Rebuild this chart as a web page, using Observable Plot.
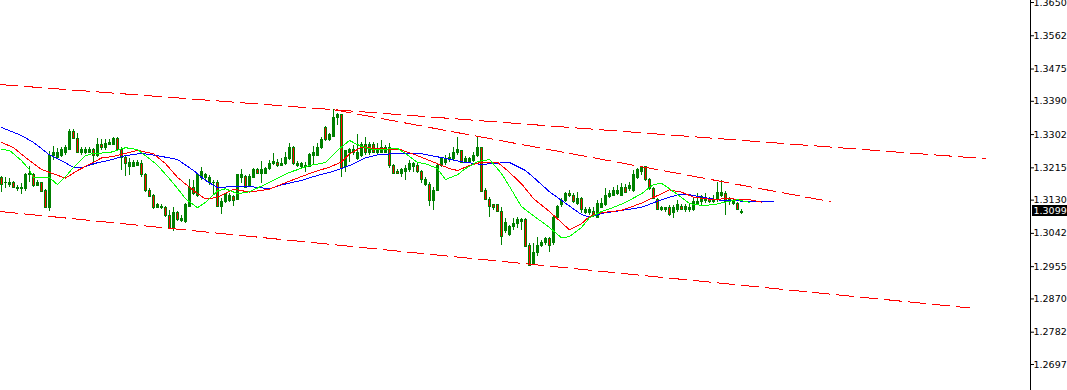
<!DOCTYPE html>
<html>
<head>
<meta charset="utf-8">
<script src="https://cdn.jsdelivr.net/npm/d3@7"></script>
<script src="https://cdn.jsdelivr.net/npm/@observablehq/plot@0.6"></script>
<style>
  html, body { margin: 0; padding: 0; background: #ffffff; overflow: hidden; }
  #chart svg { display: block; overflow: hidden; }
</style>
</head>
<body>
<div id="chart"></div>
<script>
// Daily candles (bar index = position in the arrays), prices
const open = [
  1.3189,1.3174,1.3171,1.3174,1.3160,1.3160,1.3158,1.3197,1.3197,1.3168,
  1.3174,1.3155,1.3108,1.3245,1.3242,1.3247,1.3253,1.3263,1.3308,1.3292,
  1.3253,1.3255,1.3255,1.3263,1.3245,1.3276,1.3266,1.3276,1.3276,1.3292,
  1.3263,1.3242,1.3218,1.3218,1.3221,1.3224,1.3197,1.3155,1.3142,1.3110,
  1.3110,1.3110,1.3089,1.3055,1.3097,1.3076,1.3073,1.3113,1.3163,1.3142,
  1.3189,1.3189,1.3174,1.3176,1.3176,1.3113,1.3124,1.3129,1.3137,1.3131,
  1.3189,1.3192,1.3168,1.3189,1.3208,1.3200,1.3200,1.3213,1.3224,1.3229,
  1.3221,1.3224,1.3239,1.3268,1.3221,1.3218,1.3216,1.3218,1.3247,1.3247,
  1.3266,1.3321,1.3287,1.3297,1.3345,1.3353,1.3216,1.3253,1.3253,1.3237,
  1.3247,1.3274,1.3253,1.3274,1.3253,1.3255,1.3255,1.3266,1.3221,1.3205,
  1.3200,1.3205,1.3210,1.3218,1.3221,1.3205,1.3171,1.3171,1.3129,1.3155,
  1.3221,1.3229,1.3237,1.3239,1.3253,1.3258,1.3231,1.3231,1.3234,1.3245,
  1.3266,1.3155,1.3131,1.3116,1.3116,1.3100,1.3050,1.3037,1.3058,1.3066,
  1.3073,1.3079,1.3010,1.2963,1.2990,1.3010,1.3016,1.3029,1.3016,1.3084,
  1.3116,1.3129,1.3147,1.3142,1.3121,1.3134,1.3097,1.3097,1.3100,1.3084,
  1.3110,1.3116,1.3137,1.3142,1.3147,1.3142,1.3163,1.3158,1.3155,1.3187,
  1.3203,1.3216,1.3182,1.3160,1.3131,1.3103,1.3103,1.3110,1.3095,1.3103,
  1.3113,1.3103,1.3105,1.3103,1.3121,1.3124,1.3129,1.3131,1.3124,1.3134,
  1.3142,1.3147,1.3124,1.3121,1.3121,1.3095
];
const high = [
  1.3192,1.3189,1.3187,1.3179,1.3168,1.3174,1.3200,1.3218,1.3200,1.3182,
  1.3176,1.3158,1.3258,1.3271,1.3266,1.3268,1.3274,1.3316,1.3316,1.3305,
  1.3268,1.3268,1.3268,1.3266,1.3292,1.3289,1.3289,1.3289,1.3295,1.3295,
  1.3268,1.3245,1.3239,1.3234,1.3234,1.3234,1.3200,1.3160,1.3145,1.3121,
  1.3118,1.3113,1.3103,1.3110,1.3100,1.3089,1.3121,1.3184,1.3182,1.3197,
  1.3216,1.3200,1.3195,1.3182,1.3182,1.3134,1.3147,1.3147,1.3142,1.3197,
  1.3210,1.3195,1.3197,1.3213,1.3213,1.3231,1.3216,1.3234,1.3253,1.3237,
  1.3239,1.3255,1.3279,1.3271,1.3231,1.3229,1.3229,1.3253,1.3271,1.3279,
  1.3295,1.3323,1.3305,1.3368,1.3358,1.3355,1.3261,1.3266,1.3274,1.3302,
  1.3281,1.3295,1.3281,1.3281,1.3279,1.3287,1.3274,1.3279,1.3224,1.3210,
  1.3213,1.3221,1.3234,1.3229,1.3226,1.3208,1.3189,1.3176,1.3163,1.3226,
  1.3242,1.3247,1.3253,1.3268,1.3295,1.3261,1.3245,1.3242,1.3255,1.3295,
  1.3268,1.3160,1.3137,1.3118,1.3118,1.3110,1.3081,1.3063,1.3081,1.3084,
  1.3081,1.3081,1.3016,1.3016,1.3031,1.3024,1.3031,1.3031,1.3087,1.3116,
  1.3134,1.3150,1.3155,1.3147,1.3150,1.3137,1.3110,1.3110,1.3110,1.3129,
  1.3134,1.3160,1.3155,1.3163,1.3168,1.3174,1.3171,1.3176,1.3208,1.3213,
  1.3218,1.3218,1.3187,1.3163,1.3134,1.3113,1.3110,1.3116,1.3116,1.3129,
  1.3118,1.3118,1.3121,1.3134,1.3147,1.3142,1.3147,1.3137,1.3142,1.3176,
  1.3182,1.3152,1.3137,1.3134,1.3124,1.3105
];
const low = [
  1.3150,1.3160,1.3163,1.3160,1.3152,1.3145,1.3152,1.3176,1.3163,1.3166,
  1.3150,1.3108,1.3100,1.3234,1.3237,1.3242,1.3247,1.3261,1.3289,1.3253,
  1.3247,1.3250,1.3253,1.3221,1.3242,1.3261,1.3261,1.3274,1.3274,1.3258,
  1.3208,1.3192,1.3195,1.3216,1.3218,1.3189,1.3150,1.3137,1.3105,1.3108,
  1.3105,1.3084,1.3052,1.3047,1.3073,1.3071,1.3068,1.3110,1.3142,1.3137,
  1.3182,1.3182,1.3168,1.3145,1.3110,1.3092,1.3121,1.3124,1.3113,1.3129,
  1.3174,1.3160,1.3163,1.3187,1.3197,1.3174,1.3197,1.3208,1.3221,1.3216,
  1.3218,1.3221,1.3234,1.3221,1.3216,1.3213,1.3203,1.3216,1.3224,1.3245,
  1.3263,1.3284,1.3284,1.3295,1.3326,1.3189,1.3203,1.3229,1.3247,1.3234,
  1.3242,1.3247,1.3247,1.3253,1.3247,1.3253,1.3253,1.3213,1.3197,1.3197,
  1.3189,1.3182,1.3203,1.3203,1.3200,1.3174,1.3166,1.3113,1.3103,1.3152,
  1.3216,1.3221,1.3229,1.3234,1.3247,1.3226,1.3226,1.3226,1.3229,1.3242,
  1.3150,1.3129,1.3084,1.3103,1.3097,1.3010,1.3042,1.3034,1.3050,1.3055,
  1.3050,1.3005,1.2955,1.2958,1.2982,1.3005,1.3010,1.2992,1.3010,1.3081,
  1.3110,1.3124,1.3137,1.3121,1.3116,1.3095,1.3092,1.3089,1.3084,1.3081,
  1.3108,1.3113,1.3134,1.3139,1.3142,1.3139,1.3147,1.3152,1.3150,1.3184,
  1.3195,1.3179,1.3155,1.3131,1.3103,1.3100,1.3097,1.3087,1.3081,1.3097,
  1.3103,1.3097,1.3097,1.3100,1.3118,1.3116,1.3121,1.3121,1.3121,1.3124,
  1.3137,1.3089,1.3116,1.3116,1.3103,1.3092
];
const close = [
  1.3171,1.3176,1.3176,1.3163,1.3163,1.3163,1.3197,1.3200,1.3166,1.3176,
  1.3152,1.3110,1.3247,1.3253,1.3253,1.3263,1.3268,1.3310,1.3292,1.3255,
  1.3263,1.3261,1.3263,1.3247,1.3276,1.3268,1.3279,1.3281,1.3292,1.3263,
  1.3242,1.3226,1.3229,1.3229,1.3229,1.3197,1.3155,1.3139,1.3110,1.3116,
  1.3113,1.3089,1.3055,1.3095,1.3079,1.3081,1.3118,1.3163,1.3145,1.3195,
  1.3205,1.3195,1.3187,1.3174,1.3113,1.3126,1.3145,1.3142,1.3129,1.3195,
  1.3195,1.3163,1.3192,1.3210,1.3200,1.3210,1.3213,1.3226,1.3231,1.3221,
  1.3226,1.3242,1.3268,1.3224,1.3226,1.3226,1.3221,1.3250,1.3253,1.3266,
  1.3289,1.3287,1.3302,1.3345,1.3353,1.3213,1.3258,1.3261,1.3261,1.3253,
  1.3274,1.3253,1.3274,1.3255,1.3263,1.3268,1.3266,1.3221,1.3200,1.3200,
  1.3208,1.3213,1.3226,1.3226,1.3203,1.3182,1.3184,1.3129,1.3155,1.3221,
  1.3239,1.3239,1.3242,1.3255,1.3261,1.3229,1.3239,1.3239,1.3247,1.3268,
  1.3152,1.3131,1.3113,1.3110,1.3100,1.3034,1.3071,1.3060,1.3066,1.3079,
  1.3079,1.3008,1.2958,1.2990,1.3010,1.3018,1.3029,1.3010,1.3084,1.3113,
  1.3129,1.3147,1.3142,1.3124,1.3134,1.3103,1.3105,1.3103,1.3087,1.3121,
  1.3121,1.3142,1.3147,1.3155,1.3155,1.3163,1.3150,1.3168,1.3197,1.3208,
  1.3216,1.3182,1.3158,1.3134,1.3105,1.3110,1.3108,1.3092,1.3110,1.3116,
  1.3105,1.3113,1.3110,1.3126,1.3126,1.3137,1.3134,1.3124,1.3131,1.3150,
  1.3150,1.3126,1.3131,1.3129,1.3105,1.30998
];

// Alligator lines (jaw = blue, teeth = red, lips = lime), sampled at bar positions
const jawBar = [0,5,8,12,15,18,20,23,27,31,35,39,44,48,51,54,58,62,67,70,75,79,83,87,91,94,99,104,110,115,120,125,127,131,133,137,141,145,147,150,155,160,165,169,172,180,187,193];
const jawPrice = [1.3321,1.3300,1.3282,1.3249,1.3234,1.3216,1.3215,1.3226,1.3235,1.3247,1.3253,1.3247,1.3237,1.3208,1.3182,1.3163,1.3166,1.3166,1.3160,1.3170,1.3182,1.3195,1.3206,1.3221,1.3241,1.3249,1.3253,1.3254,1.3242,1.3231,1.3224,1.3228,1.3229,1.3208,1.3190,1.3152,1.3122,1.3092,1.3085,1.3095,1.3103,1.3111,1.3131,1.3144,1.3144,1.3129,1.3127,1.3126];
const teethBar = [0,3,7,10,13,16,19,22,25,28,31,34,38,41,44,48,51,54,58,62,67,72,77,82,85,87,90,94,100,104,109,112,114,117,120,124,127,130,133,137,140,142,145,147,150,155,160,165,167,170,173,178,181,187,190];
const teethPrice = [1.3282,1.3268,1.3234,1.3211,1.3199,1.3188,1.3208,1.3224,1.3241,1.3245,1.3253,1.3261,1.3252,1.3226,1.3190,1.3155,1.3133,1.3137,1.3159,1.3151,1.3159,1.3180,1.3200,1.3217,1.3230,1.3252,1.3269,1.3266,1.3262,1.3247,1.3226,1.3213,1.3208,1.3221,1.3230,1.3230,1.3203,1.3173,1.3134,1.3100,1.3071,1.3052,1.3068,1.3087,1.3097,1.3103,1.3122,1.3147,1.3157,1.3151,1.3138,1.3131,1.3134,1.3131,1.3125];
const lipsBar = [0,2,5,7,8,12,14,16,18,21,23,27,31,34,36,39,43,46,49,51,54,56,59,62,67,72,77,81,84,87,89,92,94,99,101,104,106,109,111,114,116,119,122,125,127,130,133,137,140,142,145,147,150,153,156,160,163,165,167,170,172,175,178,182,184,187];
const lipsPrice = [1.3263,1.3261,1.3234,1.3210,1.3189,1.3189,1.3171,1.3192,1.3216,1.3247,1.3253,1.3255,1.3268,1.3263,1.3247,1.3222,1.3174,1.3134,1.3110,1.3124,1.3154,1.3160,1.3147,1.3152,1.3177,1.3203,1.3221,1.3229,1.3261,1.3287,1.3276,1.3265,1.3263,1.3266,1.3253,1.3229,1.3226,1.3213,1.3184,1.3197,1.3213,1.3231,1.3237,1.3200,1.3166,1.3113,1.3089,1.3058,1.3031,1.3034,1.3058,1.3084,1.3100,1.3111,1.3124,1.3147,1.3171,1.3174,1.3160,1.3137,1.3121,1.3116,1.3118,1.3127,1.3131,1.3124];

// Channel trend lines (start bar/price, end bar/price)
const trendBar1 = [-0.25, 83, -0.25];
const trendPrice1 = [1.3434, 1.3368, 1.3100];
const trendBar2 = [246, 207.25, 242.25];
const trendPrice2 = [1.3239, 1.3126, 1.2846];

// Price axis labels
const yTicks = [1.36500, 1.35625, 1.34750, 1.33900, 1.33025, 1.32150, 1.31300, 1.30425, 1.29550, 1.28700, 1.27825, 1.26975];

const lastPrice = close[close.length - 1];

const GREEN = "#008000", RED = "#ff0000", BLUE = "#0000ff", LIME = "#00ff00";
const xMin = -0.25, xMax = 257.25;
const yMin = 1.26291, yMax = 1.36553;

const candles = open.map((o, i) => ({i, open: o, high: high[i], low: low[i], close: close[i]}));
const bulls = candles.filter(d => d.close >= d.open);
const bears = candles.filter(d => d.close < d.open);
const series = (bars, prices) => bars.map((b, k) => ({b, p: prices[k]}));
const trends = trendBar1.map((b, k) => ({b1: b, p1: trendPrice1[k], b2: trendBar2[k], p2: trendPrice2[k]}));

const crisp = {shapeRendering: "crispEdges"};

const plot = Plot.plot({
  width: 1067,
  height: 390,
  marginLeft: 0,
  marginRight: 37,
  marginTop: 0,
  marginBottom: 0,
  style: {fontFamily: "'DejaVu Sans', sans-serif", fontSize: "9.5px", color: "#000", background: "#fff", overflow: "hidden"},
  x: {domain: [xMin, xMax], axis: null},
  y: {domain: [yMin, yMax], axis: "right", ticks: yTicks, tickFormat: d => d.toFixed(5), tickSize: 3, tickPadding: 0, label: null},
  marks: [
    // wicks
    Plot.ruleX(candles, {x: "i", y1: "low", y2: "high", stroke: GREEN, ...crisp}),
    // bodies
    Plot.rect(bulls, {x1: d => d.i - 0.25, x2: d => d.i + 0.25, y1: "open", y2: "close", fill: GREEN, stroke: GREEN, ...crisp}),
    Plot.rect(bears, {x1: d => d.i - 0.25, x2: d => d.i + 0.25, y1: "open", y2: "close", fill: RED, stroke: GREEN, ...crisp}),
    // alligator
    Plot.line(series(jawBar, jawPrice), {x: "b", y: "p", stroke: BLUE, strokeWidth: 1, ...crisp}),
    Plot.line(series(teethBar, teethPrice), {x: "b", y: "p", stroke: RED, strokeWidth: 1, ...crisp}),
    Plot.line(series(lipsBar, lipsPrice), {x: "b", y: "p", stroke: LIME, strokeWidth: 1, ...crisp}),
    // trend channel
    Plot.link(trends, {x1: "b1", y1: "p1", x2: "b2", y2: "p2", stroke: RED, strokeWidth: 1, strokeDasharray: "18,6", ...crisp}),
    // price scale border
    Plot.ruleX([xMax], {stroke: "#000", ...crisp})
  ]
});

// last price tag on the price scale
const yScale = plot.scale("y");
const yPos = yScale.apply(lastPrice);
const left = 1067 - 37;
const tag = d3.select(plot).append("g");
tag.append("rect")
  .attr("x", left + 2).attr("y", Math.round(yPos) - 6)
  .attr("width", 35).attr("height", 11)
  .attr("fill", "#000");
tag.append("text")
  .attr("x", left + 3.5).attr("y", yPos)
  .attr("dy", "0.34em")
  .attr("text-anchor", "start")
  .attr("fill", "#fff")
  .text(lastPrice.toFixed(5));

document.getElementById("chart").appendChild(plot);
</script>
</body>
</html>
